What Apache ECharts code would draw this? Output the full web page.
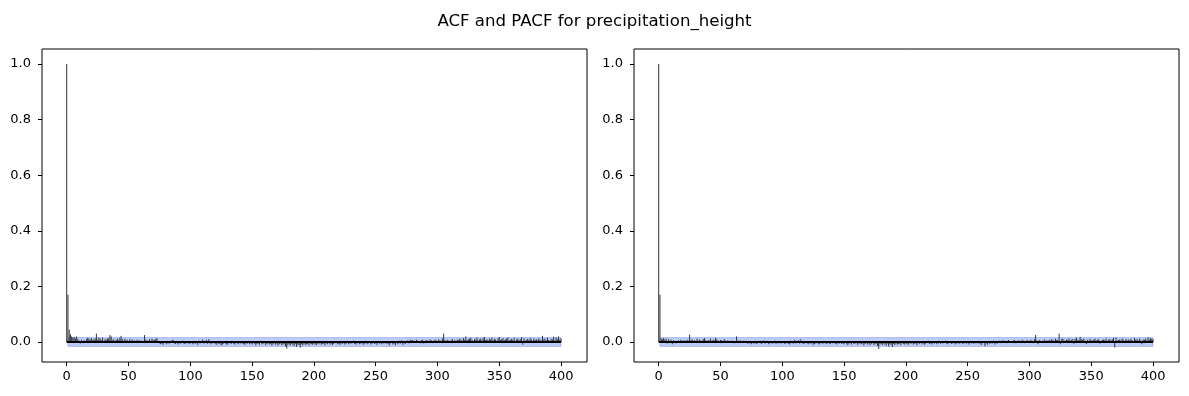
<!DOCTYPE html>
<html>
<head>
<meta charset="utf-8">
<script src="https://cdn.jsdelivr.net/npm/echarts@6/dist/echarts.min.js"></script>
<style>
  html, body { margin: 0; padding: 0; background: #fff; }
  #main { width: 1189px; height: 396px; }
</style>
</head>
<body>
<div id="main"></div>
<script>
// autocorrelation values, lag 0..400
var acfValues = [
  1, .17, .045, .028, .02, .016, .018, .012, .02, .01, .005, -.006, .008, -.004, .006, .003, .01, .015, .012, .008,
  .014, .006, .01, .012, .03, .008, .015, .012, .006, .016, .004, .01, .008, .012, .014, .025, .02, .006, .01, .004,
  .008, .012, .006, .015, .022, .01, .004, .012, .006, .008, -.003, .01, .005, .009, .004, .006, .002, .008, .004, .006,
  .005, .003, .004, .025, .008, .006, .003, .01, .004, .012, .006, .008, .01, .014, .004, -.005, -.008, -.006, -.01, .003,
  -.004, -.008, .004, -.006, -.003, .006, .008, -.005, -.007, .004, -.009, -.004, -.006, -.003, .005, -.008, -.006, -.004, .004, -.007,
  -.005, -.003, -.008, .004, -.006, -.004, -.01, .006, -.005, -.003, .009, -.006, -.004, .008, -.007, .01, -.005, -.008, -.004, .003,
  -.006, -.01, -.004, -.008, -.005, -.012, -.009, -.006, -.004, -.008, -.01, -.005, -.003, -.007, .004, -.006, -.009, -.004, -.005, -.008,
  .003, -.006, -.004, -.007, -.01, -.005, -.006, .004, -.008, -.005, -.009, -.004, -.006, -.012, -.007, -.005, -.01, .005, -.008, -.006,
  -.004, -.011, -.007, -.005, -.009, -.006, -.013, -.008, -.004, -.01, -.006, -.012, -.008, -.005, -.011, -.009, -.007, -.015, -.024, -.01,
  -.008, -.012, -.006, -.01, -.014, -.007, -.018, -.009, -.011, -.02, -.008, -.012, -.006, -.01, -.009, -.007, -.012, -.005, -.008, -.01,
  -.006, -.009, -.011, -.005, -.008, -.004, -.01, -.007, -.006, -.012, -.005, -.008, -.004, -.009, -.006, -.011, -.007, -.004, .003, -.008,
  -.006, -.01, -.005, -.007, -.004, -.009, -.006, .004, -.008, -.005, -.006, -.004, .005, -.007, -.009, -.005, -.003, -.008, -.006, -.004,
  -.01, -.006, .004, -.008, -.005, -.003, -.009, -.006, -.004, -.007, -.005, -.01, .003, -.006, -.004, -.008, -.005, -.003, -.006, -.004,
  -.007, -.012, -.005, .004, -.009, -.006, -.011, -.004, -.008, .005, -.006, .006, -.01, -.004, -.007, .004, .006, -.005, .008, .005,
  .007, .004, -.004, .008, .005, .003, -.005, .006, .008, -.006, .004, .007, .005, .003, .009, .006, -.004, .005, .008, .006,
  .004, .009, .006, -.004, .012, .03, .007, .004, .008, .005, .003, .006, .011, .004, .007, -.003, .009, .006, .012, .008,
  .005, .014, .008, .02, .006, .01, .012, .015, .007, .004, .011, .008, .016, .005, .009, .012, .006, .013, .018, .007,
  .01, .005, .012, .008, .015, .006, .011, .009, .004, .013, .018, .007, .01, .014, .006, .009, .012, .016, .005, .008,
  .011, .007, .015, .004, .009, .012, .006, .01, .017, -.01, .013, .005, .008, .011, .006, .014, .009, .004, .012, .007,
  .01, .006, .013, .008, .005, .022, .009, .012, .006, .015, .007, .004, .011, .009, .019, .006, .016, .01, .02, .008,
  .012
];
// partial autocorrelation values, lag 0..400
var pacfValues = [
  1, .17, .012, .01, .014, .008, .012, -.006, .01, .004, .008, -.008, .006, .003, -.005, .004, .006, .003, .008, .005,
  .004, .006, -.004, .008, .005, .027, .006, .01, .004, .007, .003, .012, .005, .008, .006, .004, .01, .014, .006, .003,
  .007, .005, .012, .004, .008, .006, .015, .009, .005, .003, .007, .006, -.004, .01, .005, .004, .006, .003, -.003, .005,
  .004, -.005, .003, .02, .005, -.004, .006, .003, -.004, .005, .002, .004, -.006, .003, -.005, -.008, -.004, -.006, .004, -.007,
  -.005, -.003, .005, -.007, -.004, .006, -.006, -.003, .004, -.008, -.005, .003, -.006, -.004, .005, -.007, -.003, -.005, .004, -.006,
  -.004, .003, -.007, -.005, .004, -.006, -.009, .005, -.004, -.006, .008, -.005, -.003, .007, -.006, .009, -.004, -.007, -.005, .003,
  -.005, -.008, -.004, -.006, -.003, -.01, -.007, -.005, .003, -.006, -.009, -.004, -.005, -.006, .004, -.005, -.008, -.003, -.006, -.007,
  .004, -.005, -.003, -.006, -.009, -.004, -.006, .003, -.007, -.005, -.008, -.003, -.006, -.011, -.006, -.004, -.009, .004, -.007, -.005,
  -.004, -.01, -.006, -.005, -.008, -.005, -.012, -.007, -.004, -.009, -.005, -.011, -.007, -.004, -.01, -.008, -.006, -.014, -.025, -.009,
  -.007, -.011, -.005, -.009, -.013, -.006, -.016, -.008, -.01, -.018, -.007, -.011, -.005, -.009, -.008, -.006, -.011, -.004, -.007, -.009,
  -.005, -.008, -.01, -.004, -.007, -.003, -.009, -.006, -.005, -.011, -.004, -.007, -.003, -.008, -.005, -.01, -.006, -.003, .004, -.007,
  -.005, -.009, -.004, -.006, -.003, -.008, -.005, .004, -.007, -.004, -.005, -.003, .005, -.006, -.008, -.004, -.003, -.007, -.005, -.004,
  -.009, -.005, .003, -.007, -.004, -.003, -.008, -.005, -.003, -.006, -.004, -.009, .003, -.005, -.003, -.007, -.004, -.003, -.005, -.004,
  -.006, -.011, -.004, .003, -.015, -.005, -.01, -.004, -.007, .004, -.005, .005, -.009, -.004, -.006, .004, .005, -.004, .006, .004,
  .005, .003, -.004, .007, .004, .003, -.004, .005, .007, -.005, .003, .006, .004, .003, .008, .005, -.004, .004, .007, .005,
  .003, .008, .005, -.004, .01, .025, .006, -.008, .007, .004, .003, .005, .009, .004, .006, -.003, .008, .005, .01, .007,
  .004, .012, .007, .008, .03, -.008, .01, .012, .006, .004, .009, .007, .013, .005, .008, .01, -.006, .011, .015, .006,
  .008, .018, .01, .007, .012, .005, -.007, .008, .004, .011, .006, .005, .008, .012, .005, .008, .01, -.006, .005, .007,
  .009, .006, .012, .004, .008, .01, .005, .009, .015, -.02, .016, .005, .007, .009, .005, .012, .008, .004, .01, .006,
  .009, .005, .011, .007, .004, .014, .008, .01, .005, .012, .006, -.008, .009, .008, .012, .005, .017, .008, .014, .011,
  .01
];
// confidence band half width (approx. 1.96/sqrt(n))
var confHalf = 0.016;
var bandLags = [1, 400];
var xTicks = [0, 50, 100, 150, 200, 250, 300, 350, 400];
var yTicks = [0, 0.2, 0.4, 0.6, 0.8, 1.0];

function pairs(vals) {
  return vals.map(function (v, i) { return [i, v]; });
}

function stemRender(params, api) {
  var p0 = api.coord([api.value(0), 0]);
  var p1 = api.coord([api.value(0), api.value(1)]);
  return {
    type: 'line',
    shape: { x1: p0[0], y1: p0[1], x2: p1[0], y2: p1[1] },
    style: { stroke: '#333333', lineWidth: 1 }
  };
}

var axisFont = { fontFamily: 'DejaVu Sans', fontSize: 13, color: '#000' };

function makeX(idx) {
  return {
    type: 'value', gridIndex: idx, min: -20, max: 421,
    axisLine: { show: false, onZero: false },
    splitLine: { show: false },
    axisTick: { show: true, length: 4, lineStyle: { color: '#000' }, customValues: xTicks },
    axisLabel: Object.assign({ margin: 8, customValues: xTicks }, axisFont)
  };
}
function makeY(idx) {
  return {
    type: 'value', gridIndex: idx, min: -0.072, max: 1.054,
    axisLine: { show: false, onZero: false },
    splitLine: { show: false },
    axisTick: { show: true, length: 4, lineStyle: { color: '#000' }, customValues: yTicks },
    axisLabel: Object.assign({ margin: 11, customValues: yTicks,
      formatter: function (v) { return v.toFixed(1); } }, axisFont)
  };
}

function panelSeries(idx, vals) {
  var d = pairs(vals);
  return [
    {
      type: 'line', xAxisIndex: idx, yAxisIndex: idx, silent: true,
      data: [], z: 1,
      markArea: {
        silent: true,
        itemStyle: { color: 'rgba(65,105,225,0.35)', borderColor: 'rgba(65,105,225,0.3)', borderWidth: 1 },
        data: [[{ coord: [bandLags[0], -confHalf] }, { coord: [bandLags[1], confHalf] }]]
      }
    },
    {
      type: 'custom', xAxisIndex: idx, yAxisIndex: idx, silent: true,
      renderItem: stemRender, data: d, z: 2
    },
    {
      type: 'line', xAxisIndex: idx, yAxisIndex: idx, silent: true,
      data: [[0, 0], [vals.length - 1, 0]], symbol: 'none',
      lineStyle: { color: '#000', width: 2 }, z: 3
    }
  ];
}

var chart = echarts.init(document.getElementById('main'));
var option = {
  animation: false,
  backgroundColor: '#fff',
  title: {
    text: 'ACF and PACF for precipitation_height',
    left: 'center', top: 8,
    textStyle: { fontFamily: 'DejaVu Sans', fontSize: 16.6, fontWeight: 'normal', color: '#000' }
  },
  grid: [
    { left: 42, right: 602, top: 49, bottom: 34, show: true, borderColor: '#000', borderWidth: 1, backgroundColor: 'transparent' },
    { left: 634, right: 10, top: 49, bottom: 34, show: true, borderColor: '#000', borderWidth: 1, backgroundColor: 'transparent' }
  ],
  xAxis: [makeX(0), makeX(1)],
  yAxis: [makeY(0), makeY(1)],
  series: panelSeries(0, acfValues).concat(panelSeries(1, pacfValues))
};
chart.setOption(option);
</script>
</body>
</html>
